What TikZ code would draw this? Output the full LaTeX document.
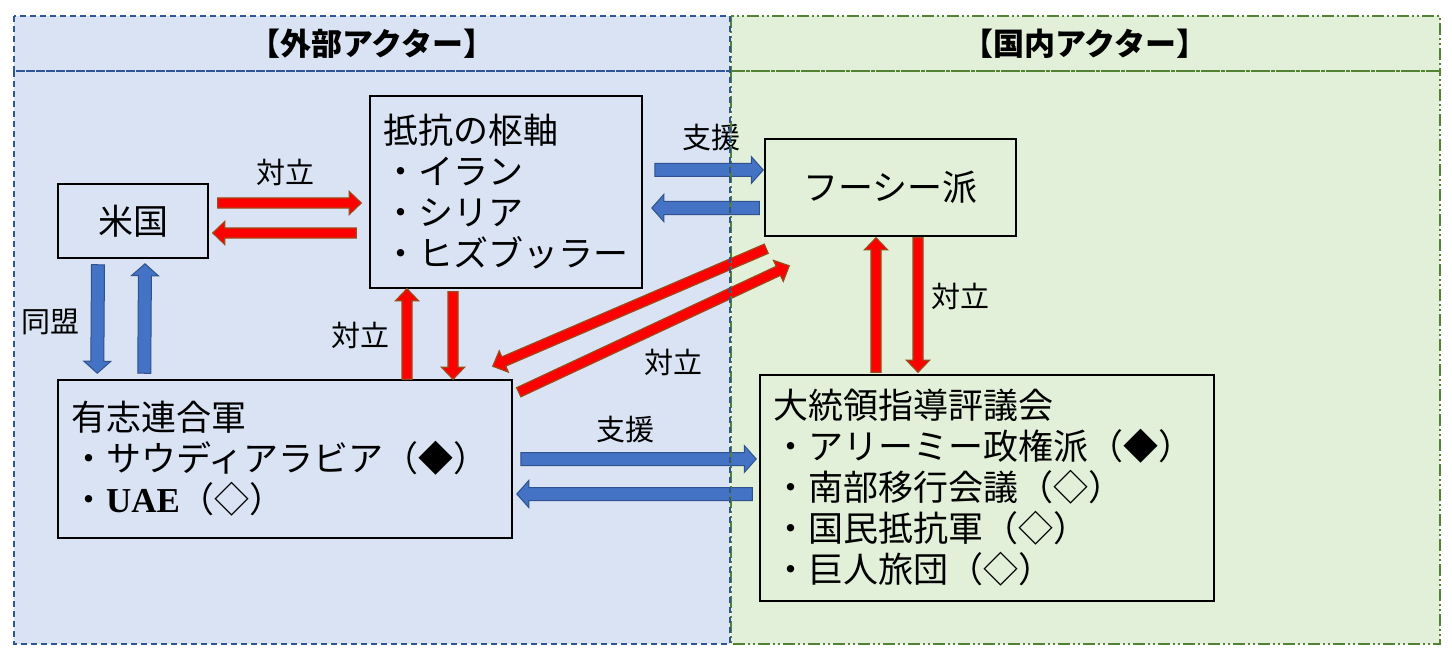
\documentclass[tikz,border=0pt]{standalone}
\usepackage{fontspec}
\setmainfont{Noto Sans CJK JP}
\newfontfamily\latf{Liberation Serif}
\usetikzlibrary{calc}
\definecolor{bluefill}{HTML}{DAE3F3}
\definecolor{blueline}{HTML}{2F5597}
\definecolor{greenfill}{HTML}{E2F0D9}
\definecolor{greenline}{HTML}{548235}
\definecolor{arrblue}{HTML}{4472C4}
\definecolor{arrblueline}{HTML}{2F528F}
\definecolor{arrred}{HTML}{FF0000}
\definecolor{arrredline}{HTML}{9C4A1A}
\tikzset{
 box/.style={draw=black, line width=1.5pt, inner xsep=13pt, inner ysep=0pt, align=left, font=\fontsize{35pt}{41pt}\selectfont},
 cbox/.style={draw=black, line width=1.5pt, inner sep=0pt, align=center, font=\fontsize{35pt}{41pt}\selectfont},
 redarr/.style={fill=arrred, draw=arrredline, line width=1.2pt, line join=miter},
 bluearr/.style={fill=arrblue, draw=arrblueline, line width=1pt, line join=miter},
 lbl/.style={font=\fontsize{29pt}{32pt}\selectfont, inner sep=0pt},
 hdr/.style={font=\fontsize{31pt}{34pt}\selectfont\bfseries, inner sep=0pt},
 bluedash/.style={draw=blueline, line width=1.2pt, dash pattern=on 6pt off 4pt},
 greendash/.style={draw=greenline, line width=1.2pt, dash pattern=on 12pt off 3pt on 2pt off 3pt on 2pt off 3pt},
}
% #1 style, #2 half shaft, #3 half head, #4 head length, #5 from, #6 to
\newcommand\barrow[6]{%
 \path[#1] let \p1=(#5), \p2=(#6), \n1={veclen(\x2-\x1,\y2-\y1)},
   \n2={(\x2-\x1)/\n1}, \n3={(\y2-\y1)/\n1},
   \p3=({\x2-#4*\n2},{\y2-#4*\n3}) in
   ({\x1-#2*\n3},{\y1+#2*\n2}) -- ({\x3-#2*\n3},{\y3+#2*\n2}) --
   ({\x3-#3*\n3},{\y3+#3*\n2}) -- (\p2) --
   ({\x3+#3*\n3},{\y3-#3*\n2}) -- ({\x3+#2*\n3},{\y3-#2*\n2}) --
   ({\x1+#2*\n3},{\y1-#2*\n2}) -- cycle;}
\newcommand\redarrow[2]{\barrow{redarr}{5}{11.5}{12}{#1}{#2}}
\newcommand\bluearrow[2]{\barrow{bluearr}{6.5}{13.5}{12}{#1}{#2}}
\begin{document}
\begin{tikzpicture}[x=1pt,y=-1pt]
\useasboundingbox (0,0) rectangle (1452,658);
% panels
\fill[greenfill] (731,16) rectangle (1440,644);
\fill[bluefill] (14,16) rectangle (730,644);
\node[hdr] (exthead) at (372,44) {【外部アクター】};
\node[hdr] (inthead) at (1085,44) {【国内アクター】};
% boxes
\node[cbox, minimum width=150pt, minimum height=74pt] (us) at (133,221) {米国};
\node[box, text width=246pt, minimum height=192pt] (axis) at (506,192)
  {抵抗の枢軸\\・イラン\\・シリア\\・ヒズブッラー};
\node[cbox, minimum width=251pt, minimum height=97pt] (houthi) at (890.5,187.5) {フーシー派};
\node[box, text width=428pt, minimum height=158pt] (coal) at (285,459)
  {有志連合軍\\・サウディアラビア（◆）\\・{\latf\bfseries UAE}（◇）};
\node[box, text width=428pt, minimum height=226pt] (plc) at (987,488)
  {大統領指導評議会\\・アリーミー政権派（◆）\\・南部移行会議（◇）\\・国民抵抗軍（◇）\\・巨人旅団（◇）};
% arrows
\redarrow{$(us.east)+(9,-18)$}{$(axis.west)+(-8,11)$}
\redarrow{$(axis.west)+(-13,41)$}{$(us.east)+(4,12)$}
\bluearrow{$(us.south)+(-35,6)$}{$(coal.north west)+(40,-6)$}
\bluearrow{$(coal.north west)+(87,-6)$}{$(us.south)+(12,5)$}
\bluearrow{$(axis.east)+(12,-22)$}{$(houthi.west)+(-1,-17.5)$}
\bluearrow{$(houthi.west)+(-5,20.5)$}{$(axis.east)+(9,16)$}
\redarrow{$(coal.north)+(122,0)$}{$(axis.south)+(-99,0)$}
\redarrow{$(axis.south)+(-53,3)$}{$(coal.north)+(168,0)$}
\redarrow{$(houthi.south west)+(2,12)$}{$(coal.north east)+(-20,-13)$}
\redarrow{$(coal.north east)+(6,13)$}{$(houthi.south west)+(25,29)$}
\redarrow{$(plc.north)+(-111,-2)$}{$(houthi.south)+(-14.5,1)$}
\redarrow{$(houthi.south)+(27.5,1)$}{$(plc.north)+(-69,-2)$}
\bluearrow{$(coal.east)+(8,0)$}{$(plc.west)+(-3,-29)$}
\bluearrow{$(plc.west)+(-7,6)$}{$(coal.east)+(4,35)$}
% labels
\node[lbl] (l1) at (285,172) {対立};
\node[lbl] (l2) at (50,322) {同盟};
\node[lbl] (l3) at (360,335) {対立};
\node[lbl] (l4) at (711,138) {支援};
\node[lbl] (l5) at (673,362) {対立};
\node[lbl] (l6) at (960,296) {対立};
\node[lbl] (l7) at (625,430) {支援};
% panel borders
\draw[greendash] (731,16) rectangle (1440,71);
\draw[greendash] (731,71) rectangle (1440,644);
\draw[bluedash] (14,16) rectangle (730,71);
\draw[bluedash] (14,71) rectangle (730,644);
\end{tikzpicture}
\end{document}
